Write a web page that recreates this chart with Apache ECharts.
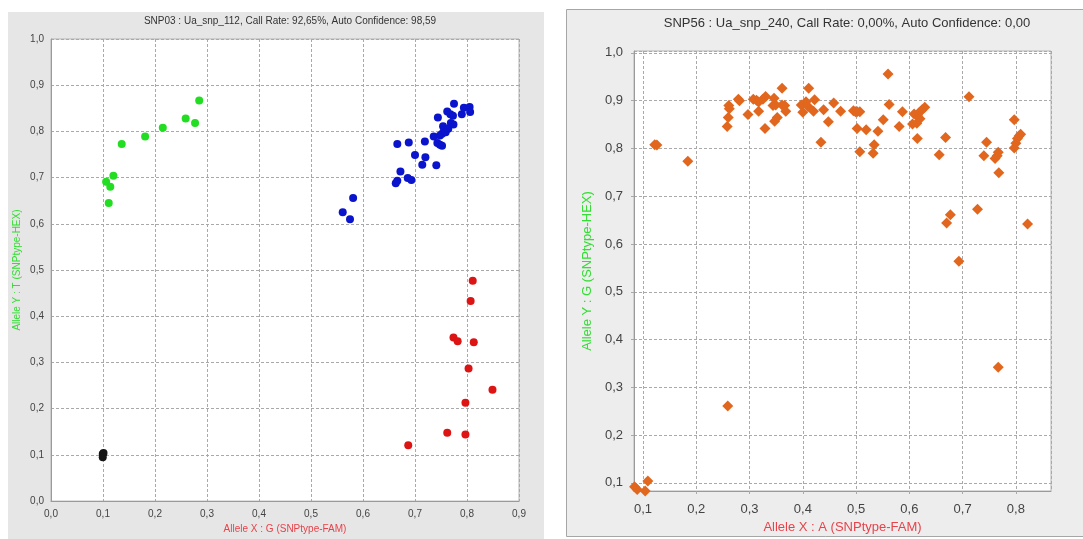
<!DOCTYPE html>
<html>
<head>
<meta charset="utf-8">
<script src="https://cdn.jsdelivr.net/npm/echarts@6/dist/echarts.min.js"></script>
<style>
  html, body { margin: 0; padding: 0; background: #ffffff; }
  #chart { width: 1083px; height: 539px; }
</style>
</head>
<body>
<div id="chart"></div>
<script>
// SNP03 genotype clusters (Allele X : G, Allele Y : T)
const snp03Title = 'SNP03 : Ua_snp_112, Call Rate: 92,65%, Auto Confidence: 98,59';
const snp03XName = 'Allele X : G (SNPtype-FAM)';
const snp03YName = 'Allele Y : T (SNPtype-HEX)';
const snp03HomY = [
  [0.106, 0.691], [0.120, 0.704], [0.114, 0.680], [0.111, 0.645], [0.136, 0.773],
  [0.181, 0.789], [0.215, 0.808], [0.259, 0.828], [0.277, 0.818], [0.285, 0.867]
];
const snp03Het = [
  [0.561, 0.625], [0.575, 0.610], [0.581, 0.656],
  [0.666, 0.693], [0.663, 0.688], [0.672, 0.713], [0.686, 0.699], [0.693, 0.695],
  [0.666, 0.773], [0.688, 0.776], [0.719, 0.778], [0.700, 0.749], [0.720, 0.744],
  [0.714, 0.728], [0.741, 0.727], [0.736, 0.789], [0.744, 0.830], [0.743, 0.775],
  [0.748, 0.771], [0.752, 0.769], [0.748, 0.791], [0.752, 0.795], [0.754, 0.811],
  [0.756, 0.803], [0.762, 0.843], [0.768, 0.837], [0.773, 0.834], [0.769, 0.818],
  [0.774, 0.815], [0.775, 0.860], [0.790, 0.837], [0.794, 0.851], [0.805, 0.853],
  [0.806, 0.842], [0.764, 0.806], [0.759, 0.798]
];
const snp03HomX = [
  [0.811, 0.477], [0.807, 0.433], [0.774, 0.354], [0.782, 0.346], [0.813, 0.344],
  [0.803, 0.287], [0.849, 0.241], [0.797, 0.213], [0.762, 0.148], [0.797, 0.144],
  [0.687, 0.121]
];
const snp03NoTemplate = [[0.0995, 0.102], [0.101, 0.104], [0.0995, 0.095]];

// SNP56 uncalled samples (Allele X : A, Allele Y : G)
const snp56Title = 'SNP56 : Ua_snp_240, Call Rate: 0,00%, Auto Confidence: 0,00';
const snp56XName = 'Allele X : A (SNPtype-FAM)';
const snp56YName = 'Allele Y : G (SNPtype-HEX)';
const snp56Points = [
  [0.084, 0.092], [0.089, 0.086], [0.109, 0.104], [0.104, 0.083],
  [0.122, 0.808], [0.126, 0.807], [0.184, 0.773], [0.259, 0.261],
  [0.258, 0.846], [0.260, 0.865], [0.262, 0.883], [0.261, 0.890],
  [0.279, 0.903], [0.281, 0.900], [0.297, 0.871], [0.307, 0.903],
  [0.313, 0.901], [0.317, 0.897], [0.317, 0.878], [0.325, 0.903],
  [0.330, 0.909], [0.329, 0.842], [0.346, 0.905], [0.344, 0.890],
  [0.349, 0.891], [0.347, 0.857], [0.352, 0.865], [0.361, 0.926],
  [0.361, 0.891], [0.366, 0.890], [0.368, 0.878], [0.397, 0.891],
  [0.400, 0.876], [0.406, 0.898], [0.411, 0.926], [0.410, 0.888],
  [0.422, 0.902], [0.420, 0.878], [0.434, 0.813], [0.439, 0.881],
  [0.448, 0.856], [0.458, 0.895], [0.471, 0.878], [0.495, 0.879],
  [0.499, 0.877], [0.502, 0.877], [0.507, 0.877], [0.502, 0.842],
  [0.507, 0.793], [0.519, 0.839], [0.534, 0.808], [0.532, 0.790],
  [0.541, 0.836], [0.551, 0.860], [0.560, 0.956], [0.562, 0.892],
  [0.581, 0.846], [0.587, 0.877], [0.606, 0.851], [0.609, 0.872],
  [0.614, 0.853], [0.615, 0.869], [0.619, 0.876], [0.620, 0.862],
  [0.624, 0.881], [0.629, 0.886], [0.615, 0.821], [0.656, 0.787],
  [0.668, 0.823], [0.670, 0.644], [0.677, 0.661], [0.693, 0.564],
  [0.712, 0.908], [0.728, 0.673], [0.740, 0.785], [0.745, 0.813],
  [0.761, 0.779], [0.765, 0.785], [0.767, 0.792], [0.768, 0.749],
  [0.767, 0.342], [0.797, 0.860], [0.797, 0.801], [0.800, 0.811],
  [0.803, 0.821], [0.806, 0.826], [0.809, 0.830], [0.822, 0.642]
];

const FONT = '"Liberation Sans", Arial, sans-serif';
const tickText = v => {
  const r = Math.round(v * 10) / 10;
  if (Math.abs(r - v) > 1e-6) return '';
  return r.toFixed(1).replace('.', ',');
};
const gridLine = { show: true, lineStyle: { color: '#a9a9a9', type: [3, 2], width: 1 } };

const chart = echarts.init(document.getElementById('chart'));
chart.setOption({
  animation: false,
  backgroundColor: '#ffffff',
  graphic: [
    { type: 'rect', z: -10, shape: { x: 8, y: 12, width: 536, height: 527 },
      style: { fill: '#e6e6e6' } },
    { type: 'rect', z: -10, shape: { x: 566.5, y: 9.5, width: 530, height: 527 },
      style: { fill: '#ededed', stroke: '#a6a6a6', lineWidth: 1 } }
  ],
  title: [
    { text: snp03Title, left: 285, top: 11, textAlign: 'center',
      textStyle: { fontFamily: FONT, fontSize: 10, fontWeight: 'normal', color: '#333' } },
    { text: snp56Title, left: 842, top: 12, textAlign: 'center',
      textStyle: { fontFamily: FONT, fontSize: 13, fontWeight: 'normal', color: '#333' } }
  ],
  grid: [
    { left: 51, top: 39, right: 564, bottom: 30, show: true,
      backgroundColor: '#ffffff', borderColor: '#b5b5b5', borderWidth: 1 },
    { left: 634, top: 51, right: 32, bottom: 48, show: true,
      backgroundColor: '#ffffff', borderColor: '#b5b5b5', borderWidth: 1 }
  ],
  xAxis: [
    { type: 'value', gridIndex: 0, min: 0, max: 0.9, interval: 0.1,
      name: snp03XName, nameLocation: 'middle', nameGap: 18,
      nameTextStyle: { fontFamily: FONT, fontSize: 10, color: '#e8424a' },
      axisLine: { show: true, lineStyle: { color: '#9a9a9a' } },
      axisTick: { show: false },
      axisLabel: { fontFamily: FONT, fontSize: 10, color: '#444', margin: 8, formatter: tickText },
      splitLine: gridLine },
    { type: 'value', gridIndex: 1, min: 0.083, max: 0.866, splitNumber: 8,
      name: snp56XName, nameLocation: 'middle', nameGap: 28,
      nameTextStyle: { fontFamily: FONT, fontSize: 13, color: '#e8424a' },
      axisLine: { show: true, lineStyle: { color: '#9a9a9a' } },
      axisTick: { show: true, length: 3, lineStyle: { color: '#a9a9a9' } },
      axisLabel: { fontFamily: FONT, fontSize: 13, color: '#444', margin: 12,
        showMinLabel: false, showMaxLabel: false, formatter: tickText },
      splitLine: gridLine }
  ],
  yAxis: [
    { type: 'value', gridIndex: 0, min: 0, max: 1, interval: 0.1,
      name: snp03YName, nameLocation: 'middle', nameGap: 29,
      nameTextStyle: { fontFamily: FONT, fontSize: 10, color: '#33dd33' },
      axisLine: { show: true, lineStyle: { color: '#9a9a9a' } },
      axisTick: { show: false },
      axisLabel: { fontFamily: FONT, fontSize: 10, color: '#444', margin: 7, formatter: tickText },
      splitLine: gridLine },
    { type: 'value', gridIndex: 1, min: 0.083, max: 1.004, splitNumber: 9,
      name: snp56YName, nameLocation: 'middle', nameGap: 40,
      nameTextStyle: { fontFamily: FONT, fontSize: 13, color: '#33dd33' },
      axisLine: { show: true, lineStyle: { color: '#9a9a9a' } },
      axisTick: { show: true, length: 3, lineStyle: { color: '#a9a9a9' } },
      axisLabel: { fontFamily: FONT, fontSize: 13, color: '#444', margin: 11,
        showMinLabel: false, showMaxLabel: false, formatter: tickText },
      splitLine: gridLine }
  ],
  series: [
    { type: 'scatter', xAxisIndex: 0, yAxisIndex: 0, data: snp03HomY,
      symbol: 'circle', symbolSize: 8, itemStyle: { color: '#22dd22', opacity: 1 } },
    { type: 'scatter', xAxisIndex: 0, yAxisIndex: 0, data: snp03Het,
      symbol: 'circle', symbolSize: 8, itemStyle: { color: '#0a14cc', opacity: 1 } },
    { type: 'scatter', xAxisIndex: 0, yAxisIndex: 0, data: snp03HomX,
      symbol: 'circle', symbolSize: 8, itemStyle: { color: '#dd1414', opacity: 1 } },
    { type: 'scatter', xAxisIndex: 0, yAxisIndex: 0, data: snp03NoTemplate,
      symbol: 'circle', symbolSize: 8, itemStyle: { color: '#151515', opacity: 1 } },
    { type: 'scatter', xAxisIndex: 1, yAxisIndex: 1, data: snp56Points,
      symbol: 'diamond', symbolSize: 11, itemStyle: { color: '#e2671e', opacity: 1 } }
  ]
});
</script>
</body>
</html>
